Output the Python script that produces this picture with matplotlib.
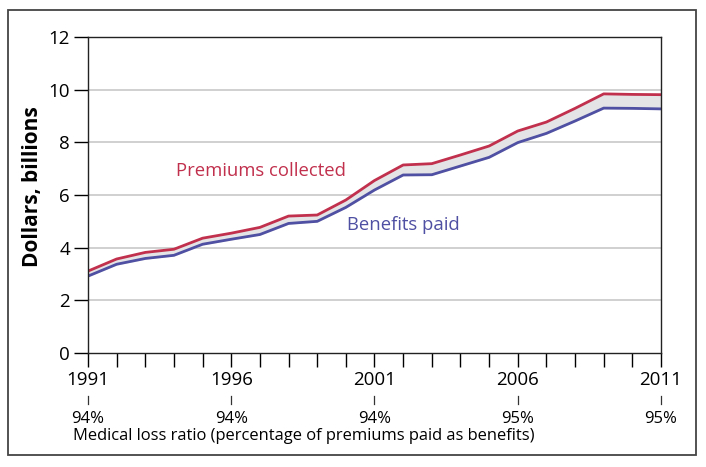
import matplotlib.pyplot as plt
from matplotlib.patches import Rectangle
from matplotlib.lines import Line2D
from matplotlib.transforms import blended_transform_factory

plt.rcParams['font.family'] = ['Open Sans', 'DejaVu Sans']

# data
years = list(range(1991, 2012))
premiums = [3.11, 3.57, 3.82, 3.94, 4.36, 4.55, 4.77, 5.20, 5.24, 5.81, 6.55,
            7.14, 7.19, 7.52, 7.86, 8.43, 8.77, 9.29, 9.84, 9.82, 9.81]
benefits = [2.92, 3.37, 3.59, 3.71, 4.13, 4.32, 4.50, 4.92, 5.00, 5.53, 6.19,
            6.76, 6.77, 7.10, 7.43, 7.99, 8.34, 8.81, 9.30, 9.29, 9.27]
label_years = [1991, 1996, 2001, 2006, 2011]
loss_ratio = ['94%', '94%', '94%', '95%', '95%']

red = '#C1304D'
blue = '#4F4FA3'

fig = plt.figure(figsize=(7.06, 4.67), dpi=100)
ax = fig.add_axes([88 / 706, 114 / 467, 573 / 706, 316 / 467])

# outer frame
fig.patches.append(Rectangle((8 / 706, 12 / 467), 688 / 706, 445 / 467,
                             transform=fig.transFigure, fill=False,
                             edgecolor='#444444', linewidth=1.3))

for v in [2, 4, 6, 8, 10]:
    ax.axhline(v, color='#C8C8C8', linewidth=1.2, zorder=0)

ax.fill_between(years, benefits, premiums, color='#E4E4E6', zorder=1)
ax.plot(years, premiums, color=red, linewidth=2, zorder=2)
ax.plot(years, benefits, color=blue, linewidth=2, zorder=2)

ax.set_xlim(1991, 2011)
ax.set_ylim(0, 12)
ax.set_yticks(range(0, 13, 2))
ax.set_xticks(years)
ax.set_xticklabels([str(y) if y in label_years else '' for y in years])
ax.tick_params(axis='y', length=10, width=1, labelsize=13.5, pad=3)
ax.tick_params(axis='x', length=10, width=1, labelsize=13.5, pad=3)
for s in ax.spines.values():
    s.set_linewidth(1)
    s.set_color('#222222')

ax.set_ylabel('Dollars, billions', fontsize=15, fontweight='bold')
ax.yaxis.set_label_coords(-0.0785, 0.525)

ax.text(1997.05, 6.9, 'Premiums collected', color=red, fontsize=13.3,
        ha='center', va='center')
ax.text(2002.0, 4.85, 'Benefits paid', color=blue, fontsize=13.3,
        ha='center', va='center')

# medical loss ratio row
tr = blended_transform_factory(ax.transData, ax.transAxes)
for y, r in zip(label_years, loss_ratio):
    fig.add_artist(Line2D([y, y], [-0.162, -0.136], transform=tr,
                          color='#333333', linewidth=0.9))
    ax.text(y, -0.21, r, transform=tr, ha='center', va='center', fontsize=12)
ax.text(-0.027, -0.262, 'Medical loss ratio (percentage of premiums paid as benefits)',
        transform=ax.transAxes, ha='left', va='center', fontsize=11.9)

fig.savefig('out.png', dpi=100)
